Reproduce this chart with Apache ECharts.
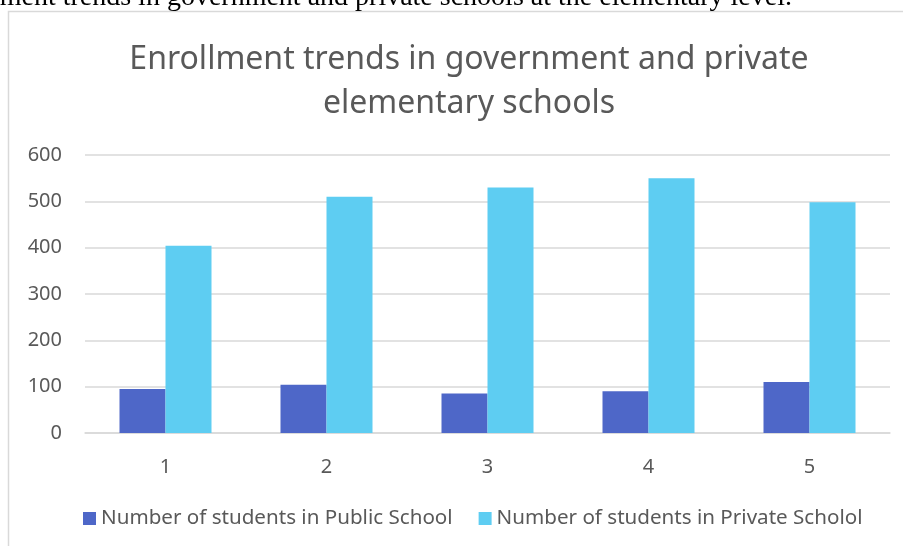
<!DOCTYPE html>
<html>
<head>
<meta charset="utf-8">
<script src="https://cdn.jsdelivr.net/npm/echarts@6/dist/echarts.min.js"></script>
<style>
  html, body { margin: 0; padding: 0; background: #fff; }
  #chart { width: 903px; height: 546px; }
</style>
</head>
<body>
<div id="chart"></div>
<script>
const categories = ['1', '2', '3', '4', '5']
const publicSchool = [95, 104, 85, 90, 110]
const privateSchool = [404, 510, 530, 550, 498]
const yTicks = [0, 100, 200, 300, 400, 500, 600]

const font = 'Noto Sans'
const gray = '#595959'

let myChart = echarts.init(document.getElementById('chart'))

let option = {
  animation: false,
  title: {
    text: 'Enrollment trends in government and private\nelementary schools',
    left: 464,
    top: 33,
    textAlign: 'center',
    textStyle: {
      fontFamily: font,
      fontSize: 32,
      fontWeight: 'normal',
      color: gray,
      lineHeight: 44
    }
  },
  graphic: [
    {
      type: 'rect',
      shape: { x: 8.5, y: 11.5, width: 1000, height: 1000 },
      style: { fill: 'none', stroke: '#d9d9d9', lineWidth: 1.5 },
      z: -1
    },
    {
      type: 'text',
      x: 792,
      y: 12,
      style: {
        text: 'Enrollment trends in government and private schools at the elementary level.',
        fontFamily: 'Liberation Serif',
        fontSize: 28,
        fill: '#000',
        textAlign: 'right',
        textVerticalAlign: 'bottom'
      }
    }
  ],
  legend: {
    bottom: 12,
    left: 78,
    itemWidth: 13,
    itemHeight: 13,
    itemGap: 26,
    icon: 'rect',
    textStyle: { fontFamily: font, fontSize: 20.6, color: gray }
  },
  grid: {
    left: 85,
    right: 13,
    top: 155,
    bottom: 113
  },
  xAxis: {
    type: 'category',
    data: categories,
    axisLine: { lineStyle: { color: '#d9d9d9', width: 1.5 } },
    axisTick: { show: false },
    axisLabel: { fontFamily: font, fontSize: 20, color: gray, margin: 24 }
  },
  yAxis: {
    type: 'value',
    min: yTicks[0],
    max: yTicks[yTicks.length - 1],
    interval: 100,
    axisLine: { show: false },
    axisTick: { show: false },
    splitLine: { lineStyle: { color: '#d9d9d9', width: 1.5 } },
    axisLabel: { fontFamily: font, fontSize: 20, color: gray, margin: 23 }
  },
  series: [
    {
      name: 'Number of students in Public School',
      type: 'bar',
      data: publicSchool,
      barWidth: 46,
      barGap: 0,
      itemStyle: { color: '#4e67c8' }
    },
    {
      name: 'Number of students in Private Scholol',
      type: 'bar',
      data: privateSchool,
      barWidth: 46,
      barGap: 0,
      itemStyle: { color: '#5ecdf2' }
    }
  ]
}

myChart.setOption(option)
</script>
</body>
</html>
